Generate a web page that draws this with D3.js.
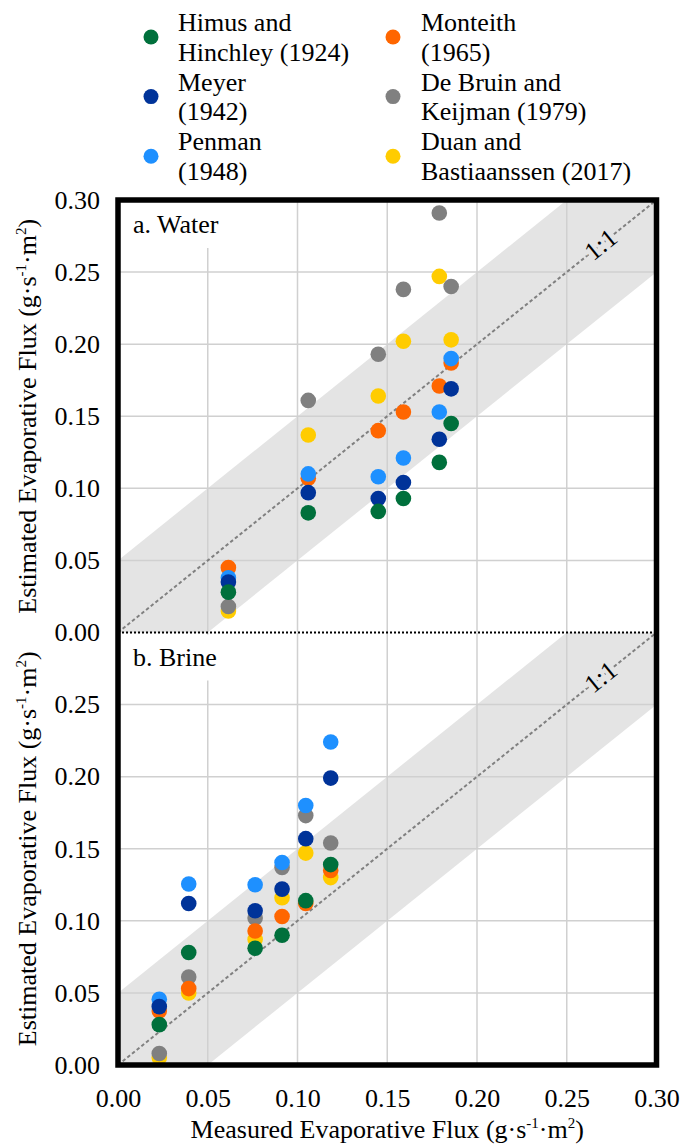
<!DOCTYPE html>
<html>
<head>
<meta charset="utf-8">
<script src="https://cdn.jsdelivr.net/npm/d3@7"></script>
</head>
<body style="margin:0;padding:0;background:#fff">
<svg id="chart" width="682" height="1144" style="display:block"></svg>
<script>
// ---------- DATA ----------
const seriesNames = ["Himus and Hinchley (1924)", "Meyer (1942)", "Penman (1948)",
                     "Monteith (1965)", "De Bruin and Keijman (1979)", "Duan and Bastiaanssen (2017)"];
const legendLines = [["Himus and", "Hinchley (1924)"], ["Meyer", "(1942)"], ["Penman", "(1948)"],
                     ["Monteith", "(1965)"], ["De Bruin and", "Keijman (1979)"], ["Duan and", "Bastiaanssen (2017)"]];
const seriesColors = ["#00703C", "#003399", "#1E90FF", "#FF6600", "#808080", "#FFCC00"];

const xTicks = [0.00, 0.05, 0.10, 0.15, 0.20, 0.25, 0.30];
const yTicksTop = [0.00, 0.05, 0.10, 0.15, 0.20, 0.25, 0.30];
const yTicksBottom = [0.00, 0.05, 0.10, 0.15, 0.20, 0.25];
const panelLabels = ["a. Water", "b. Brine"];

// a. Water
const waterX = [0.0615, 0.106, 0.145, 0.159, 0.179, 0.1856];
const waterHimus    = [0.028, 0.083, 0.084, 0.093, 0.118, 0.145];
const waterMeyer    = [0.035, 0.097, 0.093, 0.104, 0.134, 0.169];
const waterPenman   = [0.038, 0.110, 0.108, 0.121, 0.153, 0.190];
const waterMonteith = [0.045, 0.107, 0.140, 0.153, 0.171, 0.187];
const waterDeBruin  = [0.018, 0.161, 0.193, 0.238, 0.291, 0.240];
const waterDuan     = [0.015, 0.137, 0.164, 0.202, 0.247, 0.203];

// b. Brine
const brineX = [0.023, 0.0394, 0.0764, 0.0914, 0.1046, 0.1185];
const brineHimus    = [0.028, 0.078, 0.081, 0.090, 0.114, 0.139];
const brineMeyer    = [0.0405, 0.112, 0.107, 0.122, 0.157, 0.199];
const brinePenman   = [0.0456, 0.1255, 0.125, 0.1405, 0.180, 0.224];
const brineMonteith = [0.0375, 0.053, 0.093, 0.103, 0.112, 0.135];
const brineDeBruin  = [0.008, 0.061, 0.102, 0.137, 0.173, 0.154];
const brineDuan     = [0.005, 0.050, 0.087, 0.116, 0.147, 0.130];

const waterSeries = [waterHimus, waterMeyer, waterPenman, waterMonteith, waterDeBruin, waterDuan];
const brineSeries = [brineHimus, brineMeyer, brinePenman, brineMonteith, brineDeBruin, brineDuan];
// drawing order (later on top)
const drawOrder = [5, 4, 3, 2, 1, 0];

// ---------- LAYOUT ----------
const SERIF = "Liberation Serif";
const svg = d3.select("#chart");
const pLeft = 118, pRight = 656.5, pTop = 200, pMid = 632.5, pBottom = 1065;
const FONT = 26;

function serifText(sel, size) {
  return sel.attr("font-family", SERIF).style("font-family", SERIF).style("font-size", size + "px");
}

const x = d3.scaleLinear().domain([0, 0.30]).range([pLeft, pRight]);
const yTop = d3.scaleLinear().domain([0, 0.30]).range([pMid, pTop]);
const yBot = d3.scaleLinear().domain([0, 0.30]).range([pBottom, pMid]);

const panels = [
  { y: yTop, xs: waterX, data: waterSeries, label: panelLabels[0], ticks: yTicksTop, id: "pTop" },
  { y: yBot, xs: brineX, data: brineSeries, label: panelLabels[1], ticks: yTicksBottom, id: "pBot" }
];

const defs = svg.append("defs");
panels.forEach(p => {
  defs.append("clipPath").attr("id", p.id)
    .append("rect")
    .attr("x", pLeft).attr("y", p.y(0.30))
    .attr("width", pRight - pLeft).attr("height", p.y(0) - p.y(0.30));
});

const angle = Math.atan2(yTop(0.30) - yTop(0), x(0.30) - x(0)) * 180 / Math.PI;

panels.forEach(p => {
  const g = svg.append("g").attr("clip-path", `url(#${p.id})`);
  // band +/- 0.05
  const band = [[-0.05, -0.10], [-0.05, 0.0], [0.35, 0.40], [0.35, 0.30]];
  g.append("path")
    .attr("d", d3.line().x(d => x(d[0])).y(d => p.y(d[1]))(band) + "Z")
    .attr("fill", "#e4e4e4");
  // gridlines
  xTicks.slice(1, -1).forEach(t => {
    g.append("line").attr("x1", x(t)).attr("x2", x(t))
      .attr("y1", p.y(0.30)).attr("y2", p.y(0))
      .attr("stroke", "#d0d0d0").attr("stroke-width", 1.5);
  });
  yTicksTop.slice(1, -1).forEach(t => {
    g.append("line").attr("x1", pLeft).attr("x2", pRight)
      .attr("y1", p.y(t)).attr("y2", p.y(t))
      .attr("stroke", "#d0d0d0").attr("stroke-width", 1.5);
  });
  // 1:1 line
  g.append("line")
    .attr("x1", x(0)).attr("y1", p.y(0)).attr("x2", x(0.30)).attr("y2", p.y(0.30))
    .attr("stroke", "#808080").attr("stroke-width", 2).attr("stroke-dasharray", "3.5,2.5");
  // 1:1 label
  const lx = x(0.269), ly = p.y(0.269);
  serifText(g.append("text"), 26)
    .attr("transform", `translate(${lx},${ly}) rotate(${angle})`)
    .attr("text-anchor", "middle").attr("dominant-baseline", "central")
    .attr("stroke", "#e4e4e4").attr("stroke-width", 7).attr("paint-order", "stroke")
    .attr("fill", "#000")
    .text("1:1");
  // panel label box and text
  g.append("rect").attr("x", pLeft + 2).attr("y", p.y(0.30) + 2)
    .attr("width", 120).attr("height", 46).attr("fill", "#fff");
  serifText(g.append("text"), FONT).attr("x", pLeft + 15).attr("y", p.y(0.30) + 33).text(p.label);
  // points
  drawOrder.forEach(si => {
    g.selectAll(null).data(p.data[si].map((v, i) => [p.xs[i], v])).enter()
      .append("circle")
      .attr("cx", d => x(d[0])).attr("cy", d => p.y(d[1]))
      .attr("r", 7.8).attr("fill", seriesColors[si]);
  });
  // y axis
  const ax = svg.append("g").attr("transform", `translate(${pLeft - 18},0)`)
    .call(d3.axisLeft(p.y).tickValues(p.ticks).tickSize(0).tickPadding(0).tickFormat(d3.format(".2f")));
  ax.attr("font-family", SERIF).attr("font-size", FONT);
  ax.select(".domain").remove();
  serifText(ax.selectAll("text"), FONT).attr("fill", "#000");
});

// divider dotted line
svg.append("line").attr("x1", pLeft).attr("x2", pRight).attr("y1", pMid).attr("y2", pMid)
  .attr("stroke", "#000").attr("stroke-width", 2).attr("stroke-dasharray", "2,2");

// frame
svg.append("rect").attr("x", pLeft).attr("y", pTop)
  .attr("width", pRight - pLeft).attr("height", pBottom - pTop)
  .attr("fill", "none").attr("stroke", "#000").attr("stroke-width", 5.5);

// x axis
const xa = svg.append("g").attr("transform", `translate(0,${pBottom + 24})`)
  .call(d3.axisBottom(x).tickValues(xTicks).tickSize(0).tickPadding(0).tickFormat(d3.format(".2f")));
xa.attr("font-family", SERIF).attr("font-size", FONT);
xa.select(".domain").remove();
serifText(xa.selectAll("text"), FONT).attr("fill", "#000");

// axis titles
function unitTitle(sel, main) {
  sel.append("tspan").text(main + " (g·s");
  sel.append("tspan").style("font-size", "15px").attr("dy", -10).text("-1");
  sel.append("tspan").attr("dy", 10).text("·m");
  sel.append("tspan").style("font-size", "15px").attr("dy", -10).text("2");
  sel.append("tspan").attr("dy", 10).text(")");
}
const xt = serifText(svg.append("text"), FONT).attr("x", (pLeft + pRight) / 2).attr("y", 1138)
  .attr("text-anchor", "middle");
unitTitle(xt, "Measured Evaporative Flux");

[yTop, yBot].forEach(ys => {
  const cy = (ys(0) + ys(0.30)) / 2;
  const t = serifText(svg.append("text"), FONT).attr("transform", `translate(36,${cy}) rotate(-90)`)
    .attr("text-anchor", "middle");
  unitTitle(t, "Estimated Evaporative Flux");
});

// legend
const legCols = [{ dot: 151, text: 178 }, { dot: 393, text: 421 }];
seriesNames.forEach((name, i) => {
  const col = legCols[Math.floor(i / 3)];
  const row = i % 3;
  const base = 31 + row * 59.6;
  svg.append("circle").attr("cx", col.dot).attr("cy", base + 6).attr("r", 7.5).attr("fill", seriesColors[i]);
  const t = serifText(svg.append("text"), FONT).attr("x", col.text).attr("y", base);
  t.append("tspan").attr("x", col.text).text(legendLines[i][0]);
  t.append("tspan").attr("x", col.text).attr("dy", 29.8).text(legendLines[i][1]);
});
</script>
</body>
</html>
